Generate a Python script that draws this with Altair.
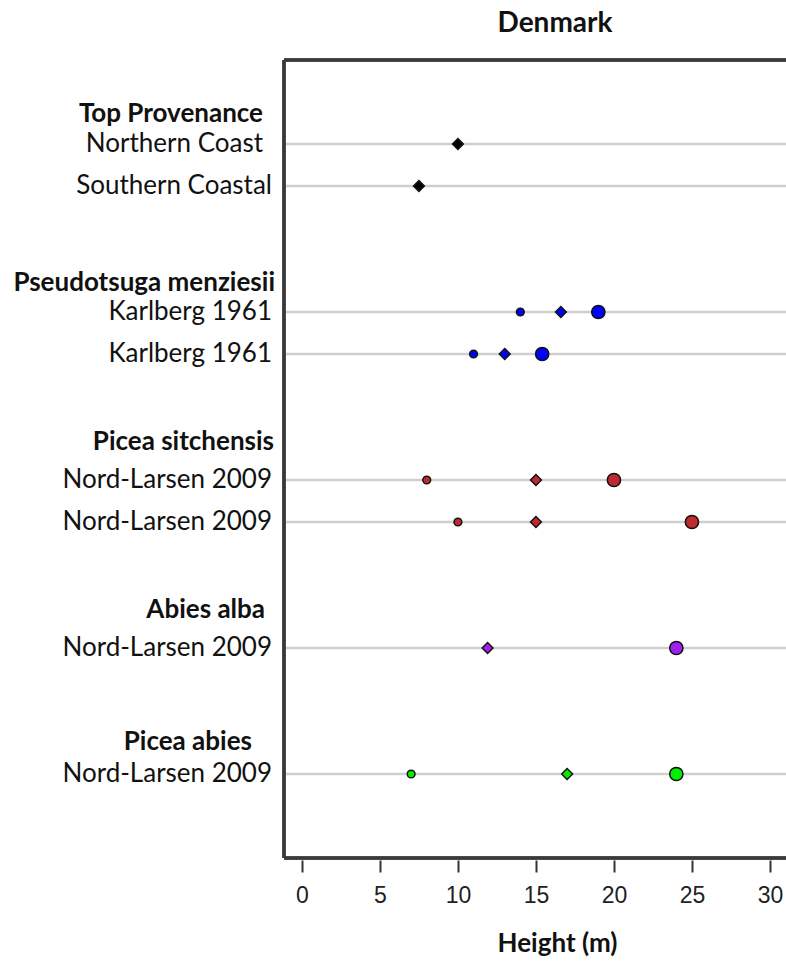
import altair as alt
import pandas as pd

# ---- data -------------------------------------------------------------
groups = ["Top Provenance", "Pseudotsuga menziesii", "Picea sitchensis",
          "Abies alba", "Picea abies"]
group_colors = ["#000000", "#0000FF", "#BE2A2E", "#A020F0", "#00F000"]

row_labels = ["Northern Coast", "Southern Coastal", "Karlberg 1961", "Karlberg 1961",
              "Nord-Larsen 2009", "Nord-Larsen 2009", "Nord-Larsen 2009",
              "Nord-Larsen 2009"]
row_group = [0, 0, 1, 1, 2, 2, 3, 4]

# heights (m) for the three markers of each row (None = not shown)
small_h = [None, None, 14.0, 11.0, 8.0, 10.0, None, 7.0]
mid_h = [10.0, 7.5, 16.6, 13.0, 15.0, 15.0, 11.9, 17.0]
big_h = [None, None, 19.0, 15.4, 20.0, 25.0, 24.0, 24.0]

x_ticks = [0, 5, 10, 15, 20, 25, 30]

# ---- layout -----------------------------------------------------------
row_slot = [0, 1, 4, 5, 8, 9, 12, 15]          # vertical slot of each row
header_slot = [-0.71, 3.31, 7.1, 11.1, 14.24]  # slot of each group heading
header_gap = [21, 9, 10, 19, 32]               # gap between heading and frame
label_gap = [21, 12, 12, 12, 12, 12, 12, 12]   # gap between row label and frame

W, H = 502, 798
FONT = "Lato"

x_scale = alt.Scale(domain=[-1.15, 31.03], nice=False, zero=False)
y_scale = alt.Scale(domain=[-2, 17], reverse=True, nice=False, zero=False)
y_enc = alt.Y("slot:Q", scale=y_scale, axis=None)

rows = pd.DataFrame({"slot": row_slot, "label": row_labels, "gap": label_gap})
heads = pd.DataFrame({"slot": header_slot, "label": groups, "gap": header_gap})

pts = []
for i in range(len(row_labels)):
    for kind, vals in (("small", small_h), ("mid", mid_h), ("big", big_h)):
        if vals[i] is not None:
            pts.append({"slot": row_slot[i], "height": vals[i], "kind": kind,
                        "color": group_colors[row_group[i]]})
pts = pd.DataFrame(pts)

base = alt.Chart(rows)

guides = base.mark_rule(color="#cfcfcf", strokeWidth=2.5).encode(
    y=y_enc, x=alt.value(0), x2=alt.value(W)
)


def text_layers(df, bold):
    """One right-aligned text layer per distinct gap to the frame."""
    layers = []
    for gap in sorted(df["gap"].unique()):
        sub = df[df["gap"] == gap][["slot", "label"]]
        layers.append(
            alt.Chart(sub).mark_text(
                align="right", baseline="middle", font=FONT, fontSize=26,
                fontWeight="bold" if bold else "normal", color="#111111",
            ).encode(y=y_enc, x=alt.value(-int(gap)), text="label:N")
        )
    return layers


points = alt.Chart(pts).mark_point(filled=True, stroke="#111111", strokeWidth=1.5,
                                   opacity=1).encode(
    x=alt.X("height:Q", scale=x_scale,
            axis=alt.Axis(values=x_ticks, title="Height (m)", grid=False,
                          domain=False, ticks=True, tickSize=12, tickWidth=2,
                          tickColor="#333333", offset=2, labelFont="Liberation Sans",
                          labelFontSize=23, labelColor="#222222", labelPadding=12,
                          titleFont=FONT, titleFontSize=26, titleFontWeight="bold",
                          titleColor="#111111", titleX=273, titleY=83,
                          titleBaseline="middle", titleAlign="center")),
    y=y_enc,
    shape=alt.Shape("kind:N", scale=alt.Scale(domain=["small", "mid", "big"],
                                              range=["circle", "diamond", "circle"]),
                    legend=None),
    size=alt.Size("kind:N", scale=alt.Scale(domain=["small", "mid", "big"],
                                            range=[60, 175, 210]),
                  legend=None),
    fill=alt.Fill("color:N", scale=None),
)

# plot frame: left, top and bottom sides
frame_left = base.mark_rule(color="#3a3a3a", strokeWidth=2.5).encode(
    x=alt.value(0), y=alt.value(0), y2=alt.value(H)
)
frame_top = base.mark_rule(color="#3a3a3a", strokeWidth=2.5).encode(
    x=alt.value(0), x2=alt.value(W + 2), y=alt.value(0)
)
frame_bottom = base.mark_rule(color="#3a3a3a", strokeWidth=2.5).encode(
    x=alt.value(0), x2=alt.value(W + 2), y=alt.value(H)
)

chart = alt.layer(guides, frame_left, frame_top, frame_bottom,
                  *text_layers(rows, False), *text_layers(heads, True),
                  points).properties(
    width=W, height=H,
    autosize=alt.AutoSizeParams(type="none"),
    padding={"left": 284, "top": 60, "right": 0, "bottom": 106},
    title=alt.TitleParams("Denmark", font=FONT, fontSize=28, fontWeight="bold",
                          color="#111111", anchor="middle", dx=20, offset=21),
).configure_view(stroke=None).configure(background="white")

chart.save("out.html", embed_options={"renderer": "svg", "actions": False})
